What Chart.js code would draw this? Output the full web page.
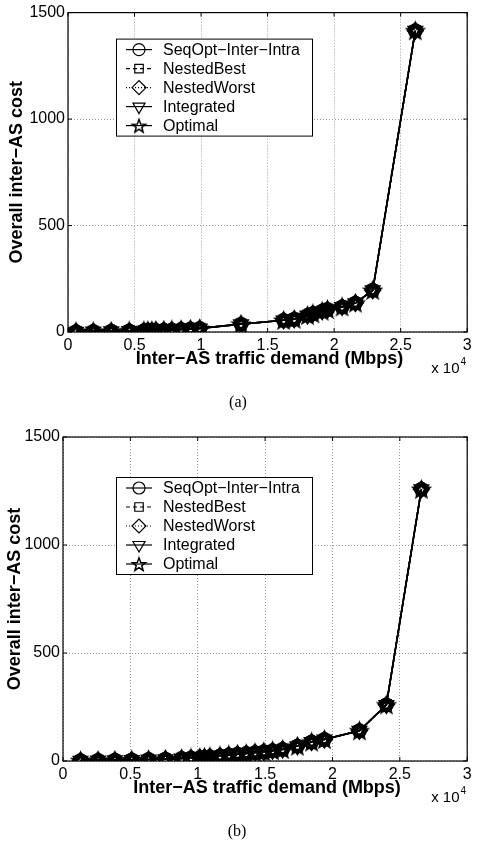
<!DOCTYPE html>
<html>
<head>
<meta charset="utf-8">
<script src="https://cdn.jsdelivr.net/npm/chart.js@4.4.1/dist/chart.umd.min.js"></script>
<style>
  html, body { margin: 0; padding: 0; background: #fff; }
  body { width: 477px; height: 844px; position: relative; overflow: hidden; }
  canvas { position: absolute; left: 0; display: block; }
  #ca { top: 0; }
  #cb { top: 420px; }
</style>
</head>
<body>
<canvas id="ca" width="477" height="420"></canvas>
<canvas id="cb" width="477" height="424"></canvas>
<script>
// Series shown in both panels
const seriesNames = ['SeqOpt\u2212Inter\u2212Intra', 'NestedBest', 'NestedWorst', 'Integrated', 'Optimal'];

// Panel (a): inter-AS traffic demand (Mbps) and overall inter-AS cost
const demandA = [600, 1900, 3250, 4600, 5700, 6000, 6300, 6600, 7200, 7800, 8500, 9200, 9900,
                 13000, 16200, 17000, 18000, 18400, 19100, 19500, 20600, 21600, 22900, 26100];
const costA   = [2, 3, 4, 5, 6, 7, 7, 8, 9, 10, 12, 14, 17,
                 37, 55, 60, 78, 86, 98, 106, 118, 136, 196, 1415];

// Panel (b)
const demandB = [1300, 2600, 3850, 5100, 6350, 7600, 8800, 9500, 10150, 10500, 10900, 11650, 12300,
                 12950, 13600, 14250, 14900, 15550, 16300, 17400, 18450, 19400, 22000, 24000, 26600];
const costB   = [2, 3, 4, 5, 7, 9, 12, 14, 16, 18, 20, 24, 28,
                 32, 35, 39, 43, 48, 54, 69, 88, 100, 140, 260, 1258];

// Axis ticks
const xTicks = [0, 5000, 10000, 15000, 20000, 25000, 30000];
const yTicks = [0, 500, 1000, 1500];

const SANS = '"Liberation Sans", Arial, Helvetica, sans-serif';
const SERIF = '"Liberation Serif", "Times New Roman", serif';

// Five-pointed star marker
function starMarker(r, lw) {
  const s = Math.ceil(r * 2 + 6);
  const c = document.createElement('canvas');
  c.width = s; c.height = s;
  const g = c.getContext('2d');
  g.translate(s / 2, s / 2 + 0.8);
  g.beginPath();
  for (let i = 0; i < 10; i++) {
    const rr = i % 2 ? r * 0.42 : r;
    const a = -Math.PI / 2 + i * Math.PI / 5;
    g.lineTo(rr * Math.cos(a), rr * Math.sin(a));
  }
  g.closePath();
  g.lineJoin = 'miter';
  g.lineWidth = lw;
  g.strokeStyle = '#000';
  g.stroke();
  return c;
}
const STAR = starMarker(7.5, 2.6);
const STAR_KEY = starMarker(7, 1.5);

const styles = [
  { pointStyle: 'circle',   rotation: 0,   dash: [],     radius: 6 },
  { pointStyle: 'rect',     rotation: 0,   dash: [4, 3], radius: 6 },
  { pointStyle: 'rectRot',  rotation: 0,   dash: [1, 2], radius: 7 },
  { pointStyle: 'triangle', rotation: 180, dash: [],     radius: 7 },
  { pointStyle: STAR,       rotation: 0,   dash: [],     radius: 7 }
];

const framePlugin = {
  id: 'frame',
  afterDraw(chart) {
    const o = chart.options.plugins.frame;
    const { ctx, chartArea: a, scales } = chart;
    ctx.save();
    // Box round the plot
    ctx.strokeStyle = '#000';
    ctx.lineWidth = 1.2;
    ctx.setLineDash([]);
    ctx.strokeRect(a.left, a.top, a.right - a.left, a.bottom - a.top);
    // Inward tick marks on all four sides
    ctx.lineWidth = 1;
    ctx.beginPath();
    xTicks.forEach(v => {
      const x = scales.x.getPixelForValue(v);
      ctx.moveTo(x, a.bottom); ctx.lineTo(x, a.bottom - 4);
      ctx.moveTo(x, a.top); ctx.lineTo(x, a.top + 4);
    });
    yTicks.forEach(v => {
      const y = scales.y.getPixelForValue(v);
      ctx.moveTo(a.left, y); ctx.lineTo(a.left + 4, y);
      ctx.moveTo(a.right, y); ctx.lineTo(a.right - 4, y);
    });
    ctx.stroke();

    // Axis titles
    ctx.fillStyle = '#000';
    ctx.font = 'bold 18px ' + SANS;
    ctx.textAlign = 'center';
    ctx.textBaseline = 'middle';
    ctx.fillText('Inter\u2212AS traffic demand (Mbps)', (a.left + a.right) / 2 + 2, a.bottom + 27);
    ctx.save();
    ctx.translate(o.yTitleX, (a.top + a.bottom) / 2);
    ctx.rotate(-Math.PI / 2);
    ctx.fillText('Overall inter\u2212AS cost', 0, 0);
    ctx.restore();

    // Exponent note under the x axis
    ctx.textAlign = 'left';
    ctx.textBaseline = 'alphabetic';
    ctx.font = '15px ' + SANS;
    ctx.fillText('x 10', a.right - 36, a.bottom + 41);
    const w = ctx.measureText('x 10').width;
    ctx.font = '10px ' + SANS;
    ctx.fillText('4', a.right - 36 + w + 1, a.bottom + 33);

    // Panel caption
    ctx.font = '16px ' + SERIF;
    ctx.textAlign = 'center';
    ctx.textBaseline = 'middle';
    ctx.fillText(o.caption, o.captionX, o.captionY);

    // Legend box
    const lx = a.left + o.legendDX, ly = a.top + o.legendDY, lw = 196, lh = 97;
    ctx.fillStyle = '#fff';
    ctx.fillRect(lx, ly, lw, lh);
    ctx.strokeStyle = '#000';
    ctx.lineWidth = 1;
    ctx.strokeRect(lx + 0.5, ly + 0.5, lw, lh);
    chart.data.datasets.forEach((ds, i) => {
      const st = styles[i];
      const yy = ly + 11 + i * 19;
      ctx.strokeStyle = '#000';
      ctx.lineWidth = 1.2;
      ctx.setLineDash(st.dash);
      ctx.beginPath();
      ctx.moveTo(lx + 10, yy); ctx.lineTo(lx + 36, yy);
      ctx.stroke();
      ctx.setLineDash([]);
      ctx.fillStyle = 'rgba(255,255,255,0)';
      Chart.helpers.drawPoint(ctx, {
        pointStyle: st.pointStyle === STAR ? STAR_KEY : st.pointStyle,
        rotation: st.rotation, radius: st.radius, borderWidth: 1.2
      }, lx + 23, yy);
      ctx.fillStyle = '#000';
      ctx.font = '16px ' + SANS;
      ctx.textAlign = 'left';
      ctx.textBaseline = 'middle';
      ctx.fillText(ds.label, lx + 47, yy + 1);
    });
    ctx.restore();
  }
};

function makeChart(id, demand, cost, g) {
  const canvas = document.getElementById(id);
  const datasets = seriesNames.map((name, i) => ({
    label: name,
    data: demand.map((d, k) => ({ x: d, y: cost[k] })),
    borderColor: '#000',
    backgroundColor: 'rgba(0,0,0,0)',
    borderWidth: 1.6,
    borderDash: styles[i].dash,
    pointStyle: styles[i].pointStyle,
    pointRotation: styles[i].rotation,
    pointRadius: styles[i].radius,
    pointBorderWidth: 2.8,
    pointBorderColor: '#000',
    pointBackgroundColor: 'rgba(0,0,0,0)',
    tension: 0,
    fill: false
  }));
  return new Chart(canvas, {
    type: 'line',
    data: { datasets },
    plugins: [framePlugin],
    options: {
      responsive: false,
      animation: false,
      events: [],
      layout: { padding: { top: g.top, right: 477 - g.right, left: 0, bottom: 0 } },
      plugins: {
        legend: { display: false },
        tooltip: { enabled: false },
        frame: g
      },
      scales: {
        x: {
          type: 'linear',
          min: 0, max: 30000,
          afterFit(s) { s.height = canvas.height - g.bottom; },
          afterBuildTicks(s) { s.ticks = xTicks.map(v => ({ value: v })); },
          ticks: {
            color: '#000',
            font: { family: SANS, size: 16 },
            padding: 4,
            maxRotation: 0,
            callback: v => String(v / 10000)
          },
          grid: { color: '#9a9a9a', lineWidth: 1, drawTicks: false },
          border: { display: false, dash: [1, 2] }
        },
        y: {
          type: 'linear',
          min: 0, max: 1500,
          afterFit(s) { s.width = g.left; },
          afterBuildTicks(s) { s.ticks = yTicks.map(v => ({ value: v })); },
          ticks: {
            color: '#000',
            font: { family: SANS, size: 16 },
            padding: 3,
            callback: v => String(v)
          },
          grid: { color: '#9a9a9a', lineWidth: 1, drawTicks: false },
          border: { display: false, dash: [1, 2] }
        }
      }
    }
  });
}

makeChart('ca', demandA, costA, {
  top: 12, left: 68, right: 473, bottom: 332,
  legendDX: 48, legendDY: 26, yTitleX: 17,
  caption: '(a)', captionX: 238, captionY: 403
});
makeChart('cb', demandB, costB, {
  top: 17, left: 63, right: 473, bottom: 341,
  legendDX: 53, legendDY: 40, yTitleX: 15,
  caption: '(b)', captionX: 237, captionY: 412
});
</script>
</body>
</html>
